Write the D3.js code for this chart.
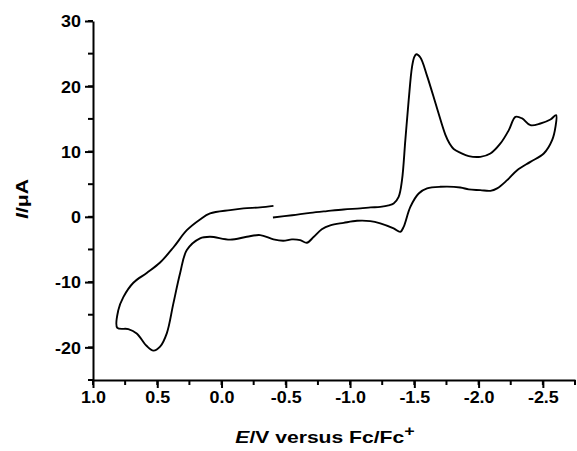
<!DOCTYPE html>
<html>
<head>
<meta charset="utf-8">
<script src="https://cdn.jsdelivr.net/npm/d3@7"></script>
<style>
body { margin:0; background:#fff; }
.axis path, .axis line { stroke:#000; stroke-width:2px; }
.cv { fill:none; stroke:#000; stroke-width:1.9px; }
</style>
</head>
<body>
<div id="chart"></div>
<script>
// potential (V vs Fc/Fc+) and current (uA), in scan order
var potential = [
  -0.40, -0.55, -0.69, -0.82, -0.95, -1.08, -1.16, -1.235, -1.30, -1.339, -1.378, -1.404,
  -1.43, -1.456, -1.482, -1.50, -1.516, -1.547, -1.599, -1.677, -1.741, -1.775, -1.806,
  -1.86, -1.923, -2.014, -2.092, -2.17, -2.235, -2.287, -2.339, -2.403, -2.481, -2.559, -2.603,
  -2.598, -2.572, -2.507, -2.403, -2.30, -2.222, -2.144, -2.092, -2.014, -1.923, -1.858,
  -1.703, -1.599, -1.534, -1.469, -1.417, -1.391, -1.339, -1.235, -1.157, -1.054, -0.95,
  -0.846, -0.78, -0.716, -0.664, -0.612, -0.548, -0.48, -0.404, -0.30, -0.197, -0.067,
  0.089, 0.167, 0.27, 0.322, 0.375, 0.426, 0.478, 0.53, 0.582, 0.66, 0.725, 0.811,
  0.803, 0.764, 0.686, 0.582, 0.478, 0.375, 0.27, 0.167, 0.089, -0.067, -0.171, -0.30, -0.404
];
var current = [
  -0.1, 0.25, 0.61, 0.88, 1.13, 1.29, 1.44, 1.53, 1.75, 2.05, 3.06, 5.62,
  11.75, 17.87, 22.97, 24.5, 24.9, 24.4, 21.6, 16.6, 12.6, 11.2, 10.4,
  9.8, 9.3, 9.19, 9.7, 11.24, 13.28, 15.31, 15.07, 14.04, 14.3, 14.91, 15.57,
  13.78, 11.75, 9.7, 8.42, 7.15, 5.62, 4.35, 3.98, 4.09, 4.2, 4.5,
  4.6, 4.35, 3.58, 1.53, -1.53, -2.3, -1.78, -1.01, -0.66, -0.61, -0.92,
  -1.3, -1.9, -3.1, -3.98, -3.57, -3.46, -3.67, -3.46, -2.8, -3.06, -3.5,
  -3.06, -3.3, -5.1, -8.6, -13.3, -17.86, -19.9, -20.5, -19.8, -17.86, -17.2, -17.0,
  -14.3, -12.3, -10.1, -8.6, -7.0, -4.7, -2.05, -0.4, 0.52, 1.03, 1.29, 1.45, 1.68
];
var xTicks = [1.0, 0.5, 0.0, -0.5, -1.0, -1.5, -2.0, -2.5];
var yTicks = [-20, -10, 0, 10, 20, 30];

var width = 577, height = 451;
var margin = {left: 93, top: 21, right: 2, bottom: 71};
var font = "'Liberation Sans', Arial, sans-serif";
var tickStretch = 1.12, labelStretch = 1.28; // the reference glyphs are drawn wide

var svg = d3.select("#chart").append("svg")
  .attr("width", width)
  .attr("height", height);

var x = d3.scaleLinear().domain([1.0, -2.75]).range([margin.left, width - margin.right]);
var y = d3.scaleLinear().domain([-25, 30]).range([height - margin.bottom, margin.top]);

// minor ticks
var xMinor = d3.range(1.0, -2.76, -0.25);
var yMinor = d3.range(-25, 31, 5);

var hyphen = f => d => f(d).replace("\u2212", "-");

var gx = svg.append("g").attr("class", "axis")
  .attr("transform", "translate(0," + y(-25) + ")");
gx.selectAll(".minor").data(xMinor).enter().append("line")
  .attr("x1", d => x(d)).attr("x2", d => x(d))
  .attr("y1", 0).attr("y2", 5);
gx.call(d3.axisBottom(x).tickValues(xTicks).tickFormat(hyphen(d3.format(".1f"))).tickSize(8).tickSizeOuter(0).tickPadding(4));

var gy = svg.append("g").attr("class", "axis")
  .attr("transform", "translate(" + x(1.0) + ",0)");
gy.selectAll(".minor").data(yMinor).enter().append("line")
  .attr("y1", d => y(d)).attr("y2", d => y(d))
  .attr("x1", 0).attr("x2", -5);
gy.call(d3.axisLeft(y).tickValues(yTicks).tickFormat(hyphen(d3.format("d"))).tickSize(8).tickSizeOuter(0).tickPadding(4));

svg.selectAll(".axis .tick text")
  .attr("font-family", font).attr("font-weight", "bold").attr("font-size", 16)
  .attr("fill", "#000")
  .attr("transform", "scale(" + tickStretch + ",1)");
gy.selectAll(".tick text").attr("dy", "0.36em").attr("x", -12 / tickStretch);

// the voltammogram
var pts = potential.map((e, i) => [e, current[i]]);
var line = d3.line()
  .x(d => x(d[0]))
  .y(d => y(d[1]))
  .curve(d3.curveCatmullRom.alpha(0.5));
svg.append("path").attr("class", "cv").attr("d", line(pts));

// axis titles
var xl = svg.append("text")
  .attr("font-family", font).attr("font-weight", "bold").attr("font-size", 16.5)
  .attr("transform", "translate(325,443) scale(" + labelStretch + ",1)")
  .attr("text-anchor", "middle");
xl.append("tspan").attr("font-style", "italic").text("E");
xl.append("tspan").text("/V versus Fc/Fc");
xl.append("tspan").attr("dy", -7).attr("font-size", 14).text("+");

var yl = svg.append("text")
  .attr("font-family", font).attr("font-weight", "bold").attr("font-size", 16.5)
  .attr("transform", "translate(28,199) rotate(-90) scale(" + labelStretch + ",1)")
  .attr("text-anchor", "middle");
yl.append("tspan").attr("font-style", "italic").text("I");
yl.append("tspan").text("/\u03bcA");
</script>
</body>
</html>
